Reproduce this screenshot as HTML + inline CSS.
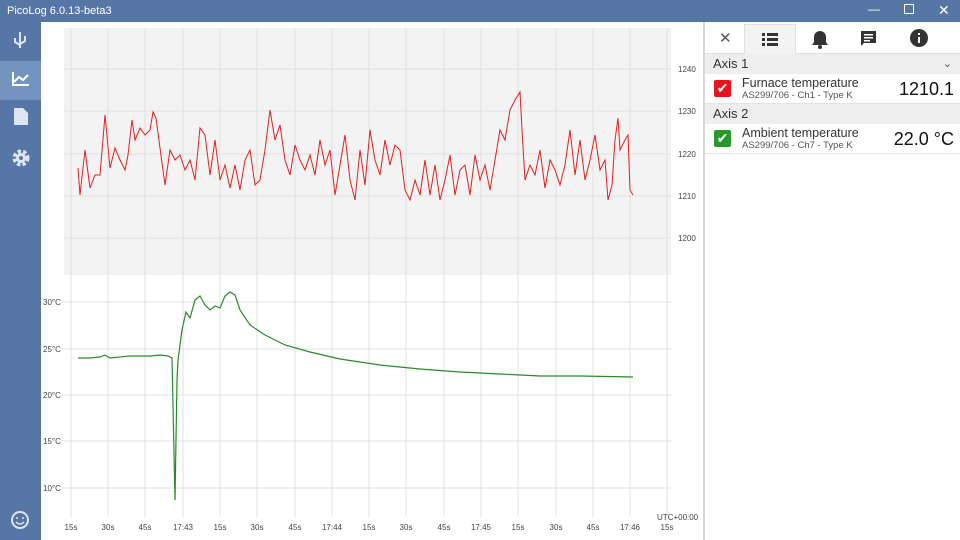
<!DOCTYPE html><html><head><style>
body{margin:0;width:960px;height:540px;overflow:hidden;font-family:"Liberation Sans",sans-serif;background:#fff;position:relative}
.title{position:absolute;left:0;top:0;width:960px;height:22px;background:#5677a6;color:#fff;font-size:11px}
.side{position:absolute;left:0;top:22px;width:41px;height:518px;background:#5677a6}
.panel{position:absolute;left:703px;top:22px;width:257px;height:518px;background:#fff;border-left:2px solid #d8d8d8;font-size:12px;color:#222}
.hdr{background:#eeeeee;height:20px;line-height:20px;padding-left:8px;font-size:13px;color:#333}
.item{height:29px;position:relative;border-bottom:1px solid #e4e4e4}
.cb{position:absolute;left:9px;top:6px;width:17px;height:17px;border-radius:2px;color:#fff;font-size:14px;text-align:center;line-height:17px}
.nm{position:absolute;left:37px;top:2px;font-size:12.5px;color:#333}
.sub{position:absolute;left:37px;top:16px;font-size:9.5px;color:#555}
.val{position:absolute;right:8px;top:5px;font-size:18px;color:#111}
</style></head><body>
<div class="title"><span style="position:absolute;left:7px;top:5px">PicoLog 6.0.13-beta3</span>
<span style="position:absolute;left:868px;top:2px;font-size:12px">—</span>
<span style="position:absolute;left:904px;top:4px;width:8px;height:8px;border:1px solid #fff"></span>
<span style="position:absolute;left:938px;top:2px;font-size:14px">✕</span></div>
<div class="side">
<div style="position:absolute;left:0;top:39px;width:41px;height:39px;background:#7393c0"></div>
<svg width="41" height="200" style="position:absolute;left:0;top:0">
<g stroke="#dde5f0" stroke-width="2" fill="none"><path d="M20 10v16M15 16v4l5 3M25 14v5l-5 3"/></g>
<path d="M13 50v13h16M14 60l5-5 4 3 5-5" stroke="#fff" stroke-width="2" fill="none"/>
<path d="M14 86h9l5 5v12h-14z" fill="#dde5f0"/>
<circle cx="21" cy="136" r="6" fill="none" stroke="#dde5f0" stroke-width="5" stroke-dasharray="3 2"/><circle cx="21" cy="136" r="5" fill="#dde5f0"/><circle cx="21" cy="136" r="2" fill="#5677a6"/>
</svg>
<svg width="41" height="30" style="position:absolute;left:0;top:484px"><circle cx="20" cy="14" r="8" fill="none" stroke="#dde5f0" stroke-width="2"/><path d="M16 16q4 4 8 0" stroke="#dde5f0" stroke-width="1.5" fill="none"/><circle cx="17" cy="12" r="1" fill="#dde5f0"/><circle cx="23" cy="12" r="1" fill="#dde5f0"/></svg>
</div>
<svg width="662" height="518" style="position:absolute;left:41px;top:22px" font-family="Liberation Sans" font-size="8" fill="#444">
<rect x="23" y="6" width="607" height="247" fill="#f3f3f3"/>
<g stroke="#e0e0e0" stroke-width="1">
<path d="M30 6V495M67 6V495M104 6V495M142 6V495M179 6V495M216 6V495M254 6V495M291 6V495M328 6V495M365 6V495M403 6V495M440 6V495M477 6V495M515 6V495M552 6V495M589 6V495M626 6V495"/>
<path d="M23 47H630M23 89H630M23 132H630M23 174H630M23 216H630"/>
<path d="M20 280H630M20 327H630M20 373H630M20 419H630M20 466H630"/>
</g>
<g text-anchor="start"><text x="637" y="50">1240</text><text x="637" y="92">1230</text><text x="637" y="135">1220</text><text x="637" y="177">1210</text><text x="637" y="219">1200</text></g>
<g><text x="2" y="283">30°C</text><text x="2" y="330">25°C</text><text x="2" y="376">20°C</text><text x="2" y="422">15°C</text><text x="2" y="469">10°C</text></g>
<text x="616" y="498">UTC+00:00</text>
<g text-anchor="middle"><text x="30" y="508">15s</text><text x="67" y="508">30s</text><text x="104" y="508">45s</text><text x="142" y="508">17:43</text><text x="179" y="508">15s</text><text x="216" y="508">30s</text><text x="254" y="508">45s</text><text x="291" y="508">17:44</text><text x="328" y="508">15s</text><text x="365" y="508">30s</text><text x="403" y="508">45s</text><text x="440" y="508">17:45</text><text x="477" y="508">15s</text><text x="515" y="508">30s</text><text x="552" y="508">45s</text><text x="589" y="508">17:46</text><text x="626" y="508">15s</text></g>
<g transform="translate(-41,-22)">
<polyline fill="none" stroke="#e02020" stroke-width="1" points="78,168 80,195 85,150 90,188 95,175 100,175 105,115 110,168 115,148 120,160 125,170 128,155 132,120 135,140 140,128 145,135 150,130 153,112 156,118 160,148 165,185 170,150 175,160 180,155 185,170 190,160 195,180 200,128 205,135 210,175 215,140 220,180 225,165 230,188 235,165 240,190 245,160 250,150 255,185 260,180 265,150 270,110 275,140 280,125 285,160 290,175 295,145 300,160 305,170 310,155 315,175 320,140 325,165 330,150 335,195 340,165 345,135 350,180 355,200 360,150 365,185 370,130 375,160 380,175 385,140 390,165 395,145 400,150 405,190 410,200 415,180 420,195 425,160 430,195 435,165 440,200 445,180 450,155 455,195 460,170 465,165 470,195 475,155 480,180 485,165 490,190 495,160 500,130 505,140 510,110 515,100 520,92 522,130 525,180 530,165 535,175 540,150 545,188 550,160 555,170 560,185 565,165 570,130 575,175 580,140 585,180 590,160 595,135 600,170 605,160 608,200 612,185 615,140 618,118 620,150 625,140 628,135 630,190 633,195"/>
<polyline fill="none" stroke="#2a8a2a" stroke-width="1.2" points="78,358 90,358 100,357 105,355 110,358 130,356 150,356 160,355 168,356 172,358 175,500 177,380 178,360 182,330 186,312 190,318 195,300 200,296 205,305 210,310 215,306 220,308 225,296 230,292 235,295 240,310 250,325 265,335 285,345 310,352 340,359 380,365 420,369 460,372 500,374 540,376 580,376 633,377"/>
</g></svg>
<div class="panel">
<div style="height:31px;position:relative;border-bottom:1px solid #e0e0e0">
<div style="position:absolute;left:14px;top:7px;font-size:15px;color:#555">✕</div>
<div style="position:absolute;left:39px;top:2px;width:50px;height:30px;background:#f3f3f3;border:1px solid #e0e0e0;border-bottom:none"></div>
<svg width="257" height="31" style="position:absolute;left:0;top:0"><g fill="#333"><rect x="57" y="11" width="3" height="3"/><rect x="62" y="11" width="11" height="3"/><rect x="57" y="16" width="3" height="3"/><rect x="62" y="16" width="11" height="3"/><rect x="57" y="21" width="3" height="3"/><rect x="62" y="21" width="11" height="3"/>
<path d="M107 23h16l-2-3v-5a6 6 0 0 0-12 0v5z"/><circle cx="115" cy="25" r="2"/>
<path d="M156 9h15v12h-12l-3 3z"/><circle cx="214" cy="16" r="9"/></g>
<g fill="#fff"><rect x="213" y="15" width="2" height="6"/><rect x="213" y="11" width="2" height="2"/><rect x="159" y="12" width="9" height="1.5"/><rect x="159" y="15" width="9" height="1.5"/><rect x="159" y="18" width="6" height="1.5"/></g></svg>
</div>
<div class="hdr" style="position:relative">Axis 1<span style="position:absolute;right:10px;top:0;font-size:11px;color:#555">⌄</span></div>
<div class="item"><div class="cb" style="background:#e8141b">✔</div><div class="nm">Furnace temperature</div><div class="sub">AS299/706 - Ch1 - Type K</div><div class="val">1210.1</div></div>
<div class="hdr">Axis 2</div>
<div class="item"><div class="cb" style="background:#279a2b">✔</div><div class="nm">Ambient temperature</div><div class="sub">AS299/706 - Ch7 - Type K</div><div class="val">22.0 °C</div></div>
</div>
</body></html>
